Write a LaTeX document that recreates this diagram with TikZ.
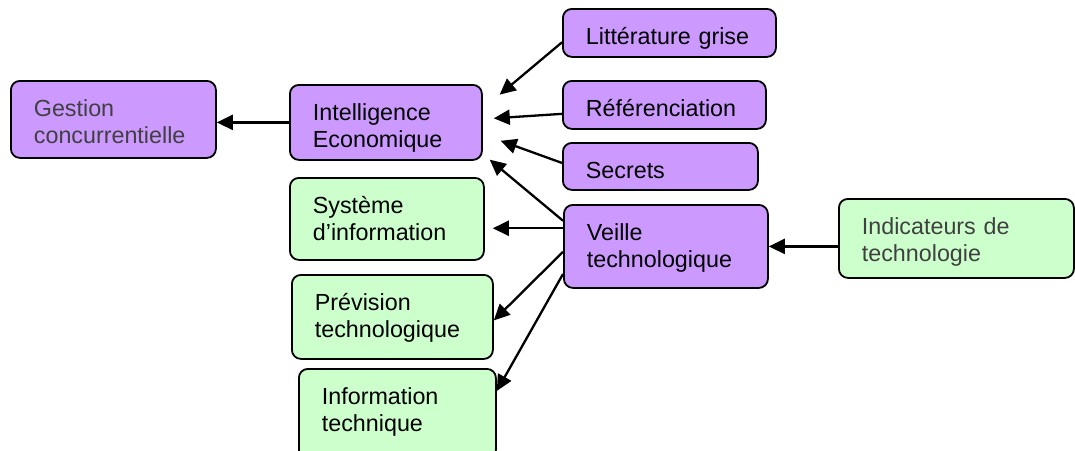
\documentclass[tikz,border=0pt]{standalone}
\usepackage{fontspec}
\setmainfont{Liberation Sans}
\usetikzlibrary{arrows.meta}
\definecolor{mauve}{HTML}{CC99FF}
\definecolor{vertpale}{HTML}{CCFFCC}
\definecolor{grisfonce}{HTML}{404040}

\begin{document}
\begin{tikzpicture}[x=1pt,y=-1pt,
    boite/.style={draw, line width=1.8pt, rounded corners=9pt, anchor=north west,
      inner xsep=23pt, inner ysep=0pt, align=left, text height=36pt,
      font=\fontsize{23.3}{26.5}\selectfont},
    boitemauve/.style={boite, fill=mauve},
    boiteverte/.style={boite, fill=vertpale},
    fleche/.style={-{Triangle[length=16pt,width=15pt]}, line width=2.3pt}]
        \useasboundingbox (0,0) rectangle (1075,450);

        %boites violettes
        \node[boitemauve, text width=159pt, text depth=41pt, text=grisfonce] (gestion) at (10,80) {Gestion\\concurrentielle};
        \node[boitemauve, text width=146pt, text depth=39pt] (intel) at (289,84) {Intelligence\\Economique};
        \node[boitemauve, text width=167pt, text depth=12pt] (litt) at (562,8) {Littérature grise};
        \node[boitemauve, text width=157pt, text depth=12pt] (ref) at (562,80) {Référenciation};
        \node[boitemauve, text width=149pt, text depth=11pt] (secrets) at (562,142) {Secrets};
        \node[boitemauve, text width=158pt, text depth=47pt] (veille) at (563,204) {Veille\\technologique};

        %boites vertes
        \node[boiteverte, text width=148pt, text depth=46pt] (systeme) at (289,177) {Système\\d’information};
        \node[boiteverte, text width=155pt, text depth=48pt] (prevision) at (291,274) {Prévision\\technologique};
        \node[boiteverte, text width=151pt, text depth=54pt] (info) at (298,368) {Information\\technique};
        \node[boiteverte, text width=189pt, text depth=43pt, text=grisfonce] (indic) at (838,198) {Indicateurs de\\technologie};

        %flèches
        \draw[fleche] (intel.west) -- (intel.west -| gestion.east);
        \draw[fleche, shorten >=22pt] (litt.185) -- (intel.8);
        \draw[fleche, shorten >=11pt] (ref.185) -- (intel.2);
        \draw[fleche, shorten >=19pt] (secrets.178) -- (intel.353);
        \draw[fleche, shorten >=9pt] (veille.166) -- (intel.342);
        \draw[fleche, shorten >=8pt] (veille.170) -- (veille.170 -| systeme.east);
        \draw[fleche] (veille.183) -- (prevision.358);
        \draw[fleche] (veille.195) -- (info.13);
        \draw[fleche] (veille.east -| indic.west) -- (veille.east);
\end{tikzpicture}
\end{document}
